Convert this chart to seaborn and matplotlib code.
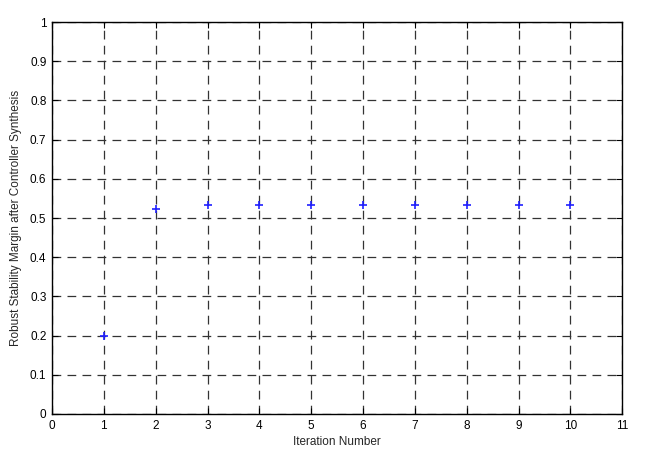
import numpy as np
import pandas as pd
import seaborn as sns
import matplotlib
matplotlib.use("Agg")
import matplotlib.pyplot as plt

# iteration vs robust stability margin
iterations = [1, 2, 3, 4, 5, 6, 7, 8, 9, 10]
margin = [0.200, 0.522, 0.533, 0.533, 0.533, 0.533, 0.533, 0.533, 0.533, 0.533]
xticks = list(range(0, 12))
yticks = [0, 0.1, 0.2, 0.3, 0.4, 0.5, 0.6, 0.7, 0.8, 0.9, 1]

df = pd.DataFrame({"Iteration Number": iterations, "margin": margin})

sns.set_style("white")
plt.rcParams["font.family"] = ["Liberation Sans", "DejaVu Sans"]

fig = plt.figure(figsize=(6.54, 4.61), dpi=100)
ax = fig.add_axes([0.0795, 0.102, 0.872, 0.85])

sns.scatterplot(data=df, x="Iteration Number", y="margin", marker="+",
                color="#2020ff", s=32, linewidth=1.2, ax=ax, zorder=3)

ax.set_xlim(0, 11)
ax.set_ylim(0, 1)
ax.set_xticks(xticks)
ax.set_yticks(yticks)
ax.set_yticklabels(["0", "0.1", "0.2", "0.3", "0.4", "0.5", "0.6", "0.7", "0.8", "0.9", "1"])
ax.grid(True, color="#333333", linestyle=(0, (7, 5)), linewidth=0.9)
ax.tick_params(direction="in", length=4, labelsize=8.5, colors="black", width=0.8,
               top=True, right=True, bottom=True, left=True, pad=4)
for s in ax.spines.values():
    s.set_color("black")
    s.set_linewidth(1.0)
ax.set_xlabel("Iteration Number", fontsize=8.5, labelpad=3)
ax.set_ylabel("Robust Stability Margin after Controller Synthesis", fontsize=8.5, labelpad=6)

plt.savefig("out.png", dpi=100)
